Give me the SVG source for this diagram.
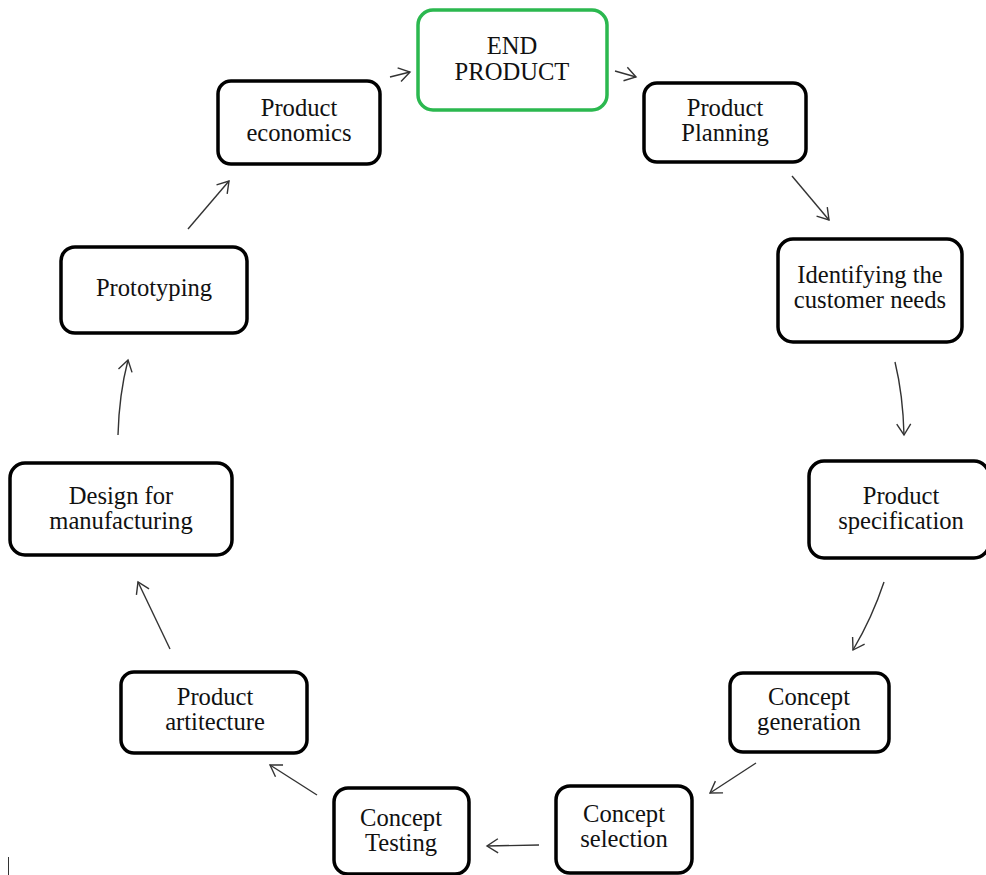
<svg xmlns="http://www.w3.org/2000/svg" width="986" height="875" viewBox="0 0 986 875">
<style>
.box{fill:#fff;stroke:#000;stroke-width:3.5}
.green{stroke:#2bb84f}
.t{font-family:"Liberation Serif","Times New Roman",serif;font-size:24.6px;fill:#111;text-anchor:middle}
.c{fill:none;stroke:#333;stroke-width:1.4;marker-end:url(#ah)}
</style>
<defs>
<marker id="ah" markerUnits="userSpaceOnUse" markerWidth="20" markerHeight="20" refX="12" refY="8" orient="auto">
<path d="M1,1 L12,8 L1,15" fill="none" stroke="#333" stroke-width="1.4"/>
</marker>
</defs>
<rect width="986" height="875" fill="#fff"/>
<g id="connectors">
<path class="c" d="M390,77 L410,72"/>
<path class="c" d="M615,71 L636,77"/>
<path class="c" d="M792,176 L829,220"/>
<path class="c" d="M895,362 Q903,395 904,435"/>
<path class="c" d="M884,582 Q872,618 853,650"/>
<path class="c" d="M756,763 L710,793"/>
<path class="c" d="M539,845 L487,846"/>
<path class="c" d="M317,795 L270,765"/>
<path class="c" d="M170,649 L138,582"/>
<path class="c" d="M118,435 Q119,395 128,360"/>
<path class="c" d="M188,229 L229,181"/>
</g>
<g id="end-product"><rect class="box green" x="418" y="10" width="189" height="100" rx="15"/><text class="t" x="512" y="54">END</text><text class="t" x="512" y="80">PRODUCT</text></g>
<g id="product-planning"><rect class="box" x="644" y="83" width="162" height="79" rx="13"/><text class="t" x="725" y="116">Product</text><text class="t" x="725" y="141">Planning</text></g>
<g id="identifying"><rect class="box" x="778" y="239" width="184" height="103" rx="15"/><text class="t" x="870" y="283">Identifying the</text><text class="t" x="870" y="308">customer needs</text></g>
<g id="product-specification"><rect class="box" x="809" y="461" width="180" height="97" rx="15"/><text class="t" x="901" y="504">Product</text><text class="t" x="901" y="529">specification</text></g>
<g id="concept-generation"><rect class="box" x="730" y="673" width="159" height="79" rx="13"/><text class="t" x="809" y="705">Concept</text><text class="t" x="809" y="730">generation</text></g>
<g id="concept-selection"><rect class="box" x="556" y="786" width="136" height="87" rx="14"/><text class="t" x="624" y="822">Concept</text><text class="t" x="624" y="847">selection</text></g>
<g id="concept-testing"><rect class="box" x="334" y="788" width="135" height="86" rx="14"/><text class="t" x="401" y="826">Concept</text><text class="t" x="401" y="851">Testing</text></g>
<g id="product-artitecture"><rect class="box" x="121" y="672" width="186" height="81" rx="13"/><text class="t" x="215" y="705">Product</text><text class="t" x="215" y="730">artitecture</text></g>
<g id="design-for-manufacturing"><rect class="box" x="10" y="463" width="222" height="92" rx="15"/><text class="t" x="121" y="504">Design for</text><text class="t" x="121" y="529">manufacturing</text></g>
<g id="prototyping"><rect class="box" x="61" y="247" width="186" height="86" rx="14"/><text class="t" x="154" y="296">Prototyping</text></g>
<g id="product-economics"><rect class="box" x="218" y="81" width="162" height="83" rx="13"/><text class="t" x="299" y="116">Product</text><text class="t" x="299" y="141">economics</text></g>
<line x1="8.5" y1="857" x2="8.5" y2="875" stroke="#333" stroke-width="1"/>
</svg>
